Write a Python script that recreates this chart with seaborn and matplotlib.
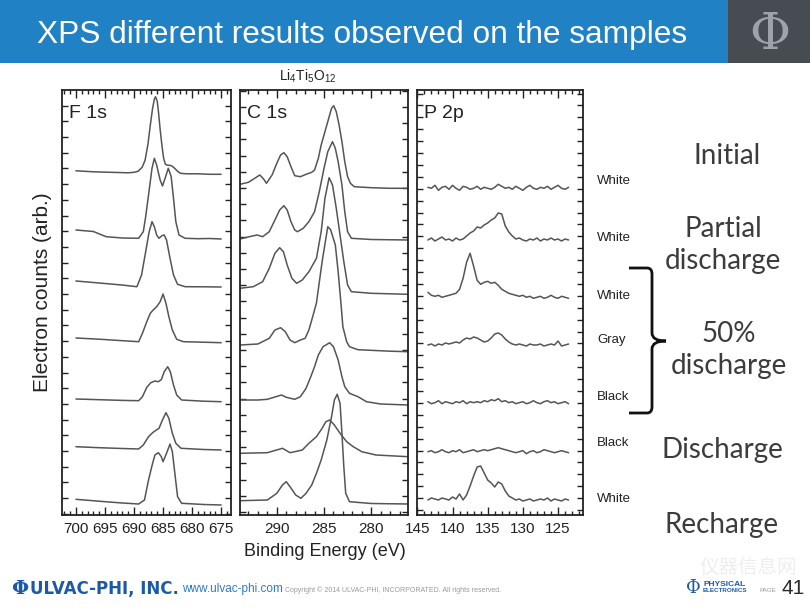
import numpy as np
import pandas as pd
import matplotlib
matplotlib.use('Agg')
import matplotlib.pyplot as plt
from matplotlib.patches import Rectangle, PathPatch
from matplotlib.path import Path
from matplotlib.ticker import MultipleLocator
import seaborn as sns

# ---- F 1s spectra (binding energy, counts above each trace's baseline) ----
f1s_energies = [
    [700, 697, 694, 691, 690, 689.3, 688.6, 688.1, 687.6, 687.2, 686.8, 686.5, 686.3, 686.0, 685.8,
     685.5, 685.2, 684.9, 684.6, 684.2, 683.8, 683.4, 683.0, 682.5, 682, 681, 679, 677, 675],
    [700, 697, 694.8, 692, 689.2, 688.4, 688.0, 687.5, 686.9, 686.5, 686.1, 685.5, 685.1, 684.65,
     684.1, 683.6, 683.2, 682.8, 682.25, 681.2, 679, 677, 675],
    [700, 696, 692.1, 689.5, 688.7, 688.0, 687.4, 686.9, 686.5, 686.1, 685.7, 685.2, 684.8, 684.4,
     683.8, 683.2, 682.5, 681.2, 678, 675],
    [700, 696, 692, 689.2, 688.55, 687.8, 687.2, 686.7, 686.1, 685.5, 685.0, 684.5, 684.0, 683.4,
     682.65, 681.5, 678, 675],
    [700, 696, 692, 689.2, 688.55, 687.8, 687.1, 686.4, 685.8, 685.3, 684.8, 684.2, 683.75, 683.2,
     682.65, 681.8, 678, 675],
    [700, 696, 692, 689.2, 688.4, 687.5, 686.8, 686.4, 685.7, 685.1, 684.5, 684.0, 683.4, 682.8,
     681.9, 678, 675],
    [700, 695, 692, 689.2, 688.2, 687.5, 686.8, 686.4, 685.8, 685.3, 685.0, 684.4, 683.8, 683.4,
     682.9, 682.5, 681.8, 678, 675],
]
f1s_counts = [
    [3.5, 2.5, 2, 1.5, 2, 3, 7, 14, 30, 49, 66, 75, 77.6, 73, 63, 45, 29, 16, 10, 9, 9, 8, 6, 3, 1,
     0.5, 0.5, 0, 0],
    [9, 7.5, 2.3, 1, 0.7, 7.3, 22, 44, 70.7, 80.7, 74, 59, 53, 60.7, 70.7, 62.3, 40.7, 17.3, 4, 0.7,
     0.3, 0.5, 0],
    [6, 4, 2, 0.3, 12, 35, 55, 65.3, 60.3, 52, 48.7, 51.3, 52, 47, 28.7, 12, 2.7, 0.3, 0.2, 0],
    [4.7, 3.5, 2, 1, 9.4, 21, 29.4, 32.7, 36, 41, 48.7, 39.4, 26, 12.7, 3.4, 1, 0.5, 0],
    [2.7, 2, 1.3, 1, 5, 14.4, 19, 20.7, 20, 22, 30, 35, 30, 16.7, 6.7, 1.7, 0.5, 0],
    [3.3, 2.3, 1.5, 1, 5, 13.3, 17.3, 19, 21.7, 30, 37.3, 31.7, 16.7, 6.7, 1.7, 0.5, 0],
    [5.7, 3.3, 2, 1, 5, 25, 41.7, 50, 52.3, 48.3, 43.3, 51.7, 61, 53.3, 28.3, 8.3, 1.7, 0.5, 0],
]
f1s_offsets = [340.7, 276, 228, 172.3, 113.3, 65, 10]

# ---- C 1s spectra ----
c1s_energies = [
    [293.9, 293.0, 291.8, 291.4, 291.1, 290.5, 290.0, 289.6, 289.25, 288.9, 288.5, 288.1, 287.5,
     286.9, 286.3, 286.0, 285.6, 285.3, 284.9, 284.5, 284.2, 283.97, 283.7, 283.4, 283.1, 282.8,
     282.5, 282.2, 281.8, 280, 278, 276.1],
    [293.9, 292.9, 292.1, 291.5, 290.8, 290.2, 289.7, 289.25, 288.9, 288.5, 288.1, 287.8, 287.2,
     286.6, 286.0, 285.5, 285.0, 284.6, 284.1, 283.8, 283.5, 283.1, 282.8, 282.5, 282.1, 280, 276.1],
    [293.9, 292.5, 291.5, 290.8, 290.2, 289.7, 289.3, 288.9, 288.4, 287.9, 287.3, 286.6, 285.8,
     285.3, 284.9, 284.46, 284.1, 283.7, 283.3, 282.9, 282.5, 282.1, 280, 276.1],
    [293.9, 292.0, 290.8, 290.2, 289.6, 289.1, 288.6, 288.1, 287.5, 287.0, 286.6, 286.2, 285.8,
     285.2, 284.6, 284.3, 283.8, 283.5, 283.2, 283.0, 282.6, 282.3, 281.4, 278, 276.1],
    [293.9, 292, 291.0, 289.5, 289.0, 288.1, 287.5, 286.9, 286.4, 286.0, 285.6, 285.1, 284.4, 284.0,
     283.5, 283.1, 282.8, 282.3, 281.4, 280.5, 279, 276.1],
    [293.9, 291, 289.4, 288.6, 288.1, 287.3, 286.6, 285.8, 285.2, 284.8, 284.4, 283.9, 283.3, 282.6,
     281.9, 281.0, 279.5, 276.1],
    [293.9, 291, 290.0, 289.4, 289.0, 288.6, 288.0, 287.45, 286.9, 286.3, 285.8, 285.3, 284.7, 284.2,
     283.9, 283.6, 283.3, 283.1, 282.9, 282.7, 282.3, 280, 276.1],
]
c1s_counts = [
    [4, 6, 13.3, 9.3, 5, 13.3, 25, 33.3, 35.6, 31.6, 21.6, 12.6, 11.6, 14, 16, 18.3, 30, 43.3, 56.6,
     70, 80, 82.6, 76.6, 63.3, 46.6, 26.6, 11.6, 5, 1.6, 0.6, 0, 0],
    [1, 3.3, 5, 3.3, 8.3, 20, 30, 34.3, 30, 18.3, 10, 8.3, 11.7, 18.3, 28.3, 48.3, 71.7, 88.3, 98.3,
     91.7, 78.3, 55, 28.3, 8.3, 1.7, 0.5, 0],
    [6, 7.6, 12.6, 26, 41, 46.6, 42.6, 29.3, 16, 11, 14.3, 22.6, 36, 62.6, 96, 116.6, 109.3, 86,
     59.3, 32.6, 9.3, 2.6, 1, 0],
    [6.7, 7.7, 13.4, 21.7, 24, 20, 11.7, 9, 11.7, 13.4, 21.7, 35, 48.7, 90, 125, 122, 106.7, 80, 48,
     25, 10, 5, 2, 0.5, 0],
    [5, 5, 5.7, 10, 7.7, 5.7, 8.3, 16.7, 28.3, 38.3, 50, 58.3, 62.3, 58.3, 45, 28.3, 18.3, 11.7, 8.3,
     3.3, 1, 0],
    [3.4, 4, 8.4, 4, 5, 6.7, 13.4, 20, 28.4, 35, 36.7, 31.7, 23.4, 15, 10, 5, 1.7, 0],
    [3.3, 4, 10.7, 19, 22.3, 17.3, 9, 5.7, 10.7, 19, 30.7, 44, 64, 87.3, 104, 109.7, 100.7, 70.7,
     37.3, 10.7, 2.3, 0.5, 0],
]
c1s_offsets = [326.7, 275, 220.7, 163.3, 110, 58.3, 11]

# ---- P 2p spectra (0.5 eV steps, 143.5 -> 123.5 eV) ----
p2p_energy = np.arange(143.5, 123.4, -0.5)
p2p_counts = [
    [1, 0, 3, -2, 1, 2, -1, 3, 0, -2, 2, 1, -1, 0, 2, -1, 1, 0, -1, 1, 4, 2, 0, 1, -1, 2, 0, -2, 1,
     3, 0, -1, 1, 0, 2, -1, 1, 3, 0, -1, 1],
    [0, 2, -1, 1, 3, 0, 1, -1, 2, 0, 1, 4, 7, 9, 13, 12, 15, 17, 20, 22, 27, 26, 14, 8, 4, 1, 2, 0,
     -1, 1, 0, 2, -1, 1, 0, 2, 0, 1, -1, 1, 0],
    [6, 3, 2, 3, 1, 2, 3, 4, 5, 9, 20, 36, 45, 32, 18, 14, 16, 17, 15, 16, 13, 9, 7, 5, 4, 3, 2, 3,
     1, 2, 0, 1, 2, 0, 1, 3, 1, 0, 2, 1, 0],
    [0, 1, -1, 1, 0, 2, 1, 2, 3, 2, 5, 7, 6, 8, 7, 5, 3, 4, 7, 11, 12, 10, 6, 3, 1, 0, 1, 0, -1, 1,
     0, 0, 1, -1, 0, 1, 0, 4, -1, 0, 1],
    [1, -1, 0, 2, -1, 1, 0, -1, 1, 0, 2, -1, 1, 0, 1, 0, 2, 1, 3, 2, 4, 1, 2, 0, 1, -1, 0, 1, -1, 0,
     2, 0, -1, 1, 2, 0, 1, -1, 0, 1, -1],
    [0, 1, -1, 0, 2, 0, -1, 1, 0, 2, -1, 0, 1, 2, 0, 1, 2, 1, 2, 3, 4, 3, 2, 1, 0, -1, 0, 1, -2, 0,
     1, -1, 0, 2, 1, 0, -1, 0, 1, 0, -1],
    [0, 2, 1, 0, 2, 1, 0, 3, 1, 6, 0, 5, 14, 24, 33, 34, 27, 20, 17, 13, 18, 16, 9, 4, 2, 0, 1, -1,
     0, 1, -1, 0, 1, 0, 2, -1, 1, 0, -1, 1, 0],
]
p2p_offsets = [326.7, 275, 216.7, 170, 112.3, 63.3, 15]

sample_colors = ['White', 'White', 'White', 'Gray', 'Black', 'Black', 'White']
stage_labels = ['Initial', 'Partial\ndischarge', '50%\ndischarge', 'Discharge', 'Recharge']

W, H = 810, 608


def fx(x):
    return x / W


def fy(y):
    return 1 - y / H


def build_frame(energies, counts, offsets):
    rows = []
    for i, (e, c) in enumerate(zip(energies, counts)):
        for ee, cc in zip(e, c):
            rows.append({'trace': i, 'energy': ee, 'signal': cc + offsets[i]})
    return pd.DataFrame(rows)


sns.set_theme(style='white')
plt.rcParams['font.family'] = ['Liberation Sans', 'DejaVu Sans']
plt.rcParams['mathtext.default'] = 'regular'

fig = plt.figure(figsize=(8.1, 6.08), dpi=100)
fig.patch.set_facecolor('white')

# header bar
fig.add_artist(Rectangle((0, fy(63)), 1, 63 / H, transform=fig.transFigure,
                         facecolor='#2181c5', edgecolor='none'))
fig.add_artist(Rectangle((fx(728), fy(63)), 82 / W, 63 / H, transform=fig.transFigure,
                         facecolor='#474c53', edgecolor='none'))
fig.text(fx(770), fy(35), 'Φ', color='#9da3aa', fontsize=36, family='DejaVu Serif',
         ha='center', va='center')
fig.text(fx(362), fy(35), 'XPS different results observed on the samples', color='white',
         fontsize=22.8, ha='center', va='center')

panels = [
    (62, 231, build_frame(f1s_energies, f1s_counts, f1s_offsets), (702.4, 673.3),
     [700, 695, 690, 685, 680, 675], 'F 1s', 15.7, 1.2),
    (240, 408, build_frame(c1s_energies, c1s_counts, c1s_offsets), (293.9, 276.1),
     [290, 285, 280], 'C 1s', 16.2, 3.0),
    (417, 583, build_frame([p2p_energy] * 7, p2p_counts, p2p_offsets), (145.05, 121.45),
     [145, 140, 135, 130, 125], 'P 2p', 11.9, 5.0),
]

top, bottom = 90, 515
for left, right, df, xlim, xticks, name, ystep, y0 in panels:
    ax = fig.add_axes([fx(left), fy(bottom), (right - left) / W, (bottom - top) / H])
    sns.lineplot(data=df, x='energy', y='signal', units='trace', estimator=None,
                 color='#555555', linewidth=1.1, sort=False, ax=ax)
    ax.set_xlim(*xlim)
    ax.set_ylim(0, bottom - top)
    ax.set_xticks(xticks)
    ax.xaxis.set_minor_locator(MultipleLocator(1))
    ax.set_yticks(np.arange(y0, bottom - top, ystep))
    ax.set_xlabel('')
    ax.set_ylabel('')
    ax.tick_params(axis='both', which='both', direction='in', top=True, right=True,
                   left=True, bottom=True, labelleft=False, color='#222222', width=1)
    ax.tick_params(axis='x', which='major', length=6, labelsize=11, pad=5, labelcolor='#222222')
    ax.tick_params(axis='x', which='minor', length=3)
    ax.tick_params(axis='y', which='major', length=4)
    for s in ax.spines.values():
        s.set_color('#222222')
        s.set_linewidth(1.3)
    ax.text(0.04, 0.965, name, transform=ax.transAxes, fontsize=14, ha='left', va='top',
            color='#222222')

fig.text(fx(308), fy(76), 'Li$_4$Ti$_5$O$_{12}$', fontsize=10, ha='center', va='center',
         color='#222222')
fig.text(fx(325), fy(552), 'Binding Energy (eV)', fontsize=13, ha='center', va='center',
         color='#222222')
fig.text(fx(43), fy(292), 'Electron counts (arb.)', fontsize=15, ha='center', va='center',
         rotation=90, color='#222222')

# sample colour labels
for y, lab in zip([181, 238, 296, 340, 397, 443, 499], sample_colors):
    fig.text(fx(597), fy(y), lab, fontsize=9.5, ha='left', va='center', color='#222222')

# stage labels
for (x, y), lab in zip([(727, 156), (723, 245), (729, 350), (722, 450), (722, 525)], stage_labels):
    fig.text(fx(x), fy(y), lab, fontsize=20, ha='center', va='center', color='#3c3c3c',
             family=['Lato', 'DejaVu Sans'], linespacing=1.3)

# curly bracket for the 50% discharge group
pts = [(629, 268), (647, 268), (652, 268), (652, 274), (652, 333), (652, 341), (666, 341),
       (652, 341), (652, 349), (652, 407), (652, 413), (647, 413), (629, 413)]
codes = [Path.MOVETO, Path.LINETO, Path.CURVE3, Path.CURVE3, Path.LINETO, Path.CURVE3,
         Path.CURVE3, Path.CURVE3, Path.CURVE3, Path.LINETO, Path.CURVE3, Path.CURVE3, Path.LINETO]
brace = Path([(fx(x), fy(y)) for x, y in pts], codes)
fig.add_artist(PathPatch(brace, transform=fig.transFigure, facecolor='none',
                         edgecolor='#111111', linewidth=2))

# footer
fig.text(fx(700), fy(567), '仪器信息网', fontsize=14, color='#eeeeee', ha='left', va='center',
         family=['Noto Sans CJK SC', 'DejaVu Sans'])
fig.text(fx(20), fy(589), 'Φ', fontsize=14, color='#1c5aa8', ha='center', va='center',
         family='DejaVu Serif', weight='bold')
fig.text(fx(30), fy(589), 'ULVAC-PHI, INC.', fontsize=12, color='#1c5aa8', ha='left',
         va='center', family='DejaVu Sans', weight='bold')
fig.text(fx(182), fy(589), 'www.ulvac-phi.com', fontsize=8.5, color='#2b7cc2', ha='left',
         va='center')
fig.text(fx(285), fy(590), 'Copyright © 2014 ULVAC-PHI, INCORPORATED. All rights reserved.',
         fontsize=5, color='#9a9a9a', ha='left', va='center')
fig.text(fx(693), fy(588), 'Φ', fontsize=13, color='#1c5aa8', ha='center', va='center',
         family='DejaVu Serif')
fig.text(fx(703), fy(584), 'PHYSICAL', fontsize=6, color='#1c5aa8', ha='left', va='center',
         weight='bold')
fig.text(fx(703), fy(591), 'ELECTRONICS', fontsize=4.5, color='#1c5aa8', ha='left',
         va='center', weight='bold')
fig.text(fx(760), fy(590), 'PAGE', fontsize=4.5, color='#9a9a9a', ha='left', va='center')
fig.text(fx(782), fy(589), '41', fontsize=15, color='#2a2a2a', ha='left', va='center')

fig.savefig('out.png', dpi=100)
